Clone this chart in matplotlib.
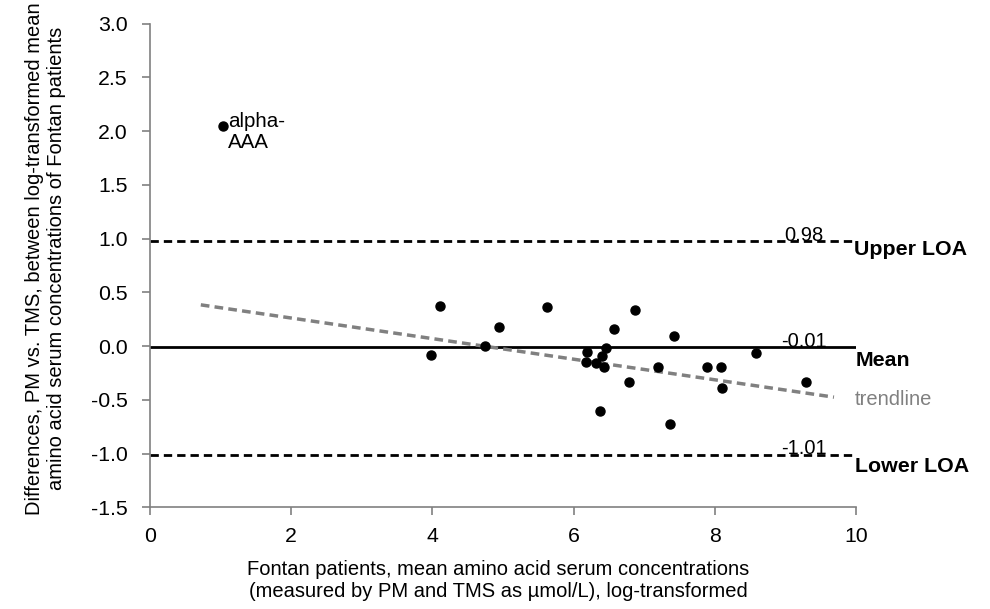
import numpy as np
import matplotlib.pyplot as plt

plt.rcParams['font.family'] = ['Liberation Sans', 'DejaVu Sans']

# 数据：Bland-Altman 图（均值 vs 差值）
mean_vals = [4.11, 5.62, 6.87, 4.94, 6.58, 7.43, 4.75, 3.98, 6.46, 6.19, 6.40, 6.18,
             6.32, 6.43, 8.59, 7.19, 7.89, 8.09, 6.79, 8.10, 9.30, 6.38, 7.37]
diff_vals = [0.375, 0.366, 0.335, 0.18, 0.158, 0.093, 0.003, -0.081, -0.021, -0.059, -0.096, -0.146,
             -0.161, -0.198, -0.062, -0.196, -0.196, -0.198, -0.332, -0.388, -0.338, -0.602, -0.729]
outlier_x, outlier_y = 1.03, 2.05
outlier_label = 'alpha-\nAAA'

mean_diff = -0.01
upper_loa = 0.98
lower_loa = -1.01
trend_x = [0.72, 9.69]
trend_y = [0.384, -0.475]

fig = plt.figure(figsize=(9.9, 6.09), dpi=100)
ax = fig.add_axes([0.1515, 0.167, 0.713, 0.794])

grey = '#808080'
ax.axhline(upper_loa, color='black', lw=2, ls=(0, (3, 1.8)))
ax.axhline(lower_loa, color='black', lw=2, ls=(0, (3, 1.8)))
ax.axhline(mean_diff, color='black', lw=2)
ax.plot(trend_x, trend_y, color=grey, lw=2.5, ls=(0, (2.5, 1.5)))

ax.plot(mean_vals, diff_vals, 'o', color='black', ms=6.5)
ax.plot(outlier_x, outlier_y, 'o', color='black', ms=6.5)
ax.text(outlier_x + 0.07, 1.99, outlier_label, fontsize=14.8, va='center', ha='left',
        linespacing=1.12)

# 线上的数值
for v in [upper_loa, mean_diff, lower_loa]:
    ax.text(9.27, v - 0.035, f'{v:.2f}', fontsize=14.5, ha='center', va='bottom')

# 右侧标签
ax.text(9.98, upper_loa - 0.08, 'Upper LOA', fontsize=15.4, fontweight='bold', ha='left', va='center',
        clip_on=False)
ax.text(9.99, mean_diff - 0.12, 'Mean', fontsize=15.4, fontweight='bold', ha='left', va='center',
        clip_on=False)
ax.text(9.99, -0.50, 'trendline', fontsize=14.5, color=grey, ha='left', va='center', clip_on=False)
ax.text(9.99, lower_loa - 0.11, 'Lower LOA', fontsize=15.4, fontweight='bold', ha='left', va='center',
        clip_on=False)

ax.set_xlim(0, 10)
ax.set_ylim(-1.5, 3.0)
ax.set_xticks(np.arange(0, 11, 2))
ax.set_yticks(np.arange(-1.5, 3.01, 0.5))
ax.set_yticklabels([f'{v:.1f}' for v in np.arange(-1.5, 3.01, 0.5)])

for s in ['top', 'right']:
    ax.spines[s].set_visible(False)
for s in ['left', 'bottom']:
    ax.spines[s].set_color(grey)
    ax.spines[s].set_linewidth(1.2)
ax.tick_params(axis='both', colors=grey, labelcolor='black', labelsize=15.3, length=6, width=1.2)
ax.tick_params(axis='y', pad=10)
ax.tick_params(axis='x', pad=8)

ax.set_xlabel('Fontan patients, mean amino acid serum concentrations\n'
              '(measured by PM and TMS as µmol/L), log-transformed', fontsize=14.5,
              linespacing=1.2, va='top')
ax.xaxis.set_label_coords(0.493, -0.108)
ax.set_ylabel('Differences, PM vs. TMS, between log-transformed mean\n'
              'amino acid serum concentrations of Fontan patients', fontsize=14.5,
              linespacing=1.2)
ax.yaxis.set_label_coords(-0.119, 0.515)

fig.savefig('out.png', dpi=100)
